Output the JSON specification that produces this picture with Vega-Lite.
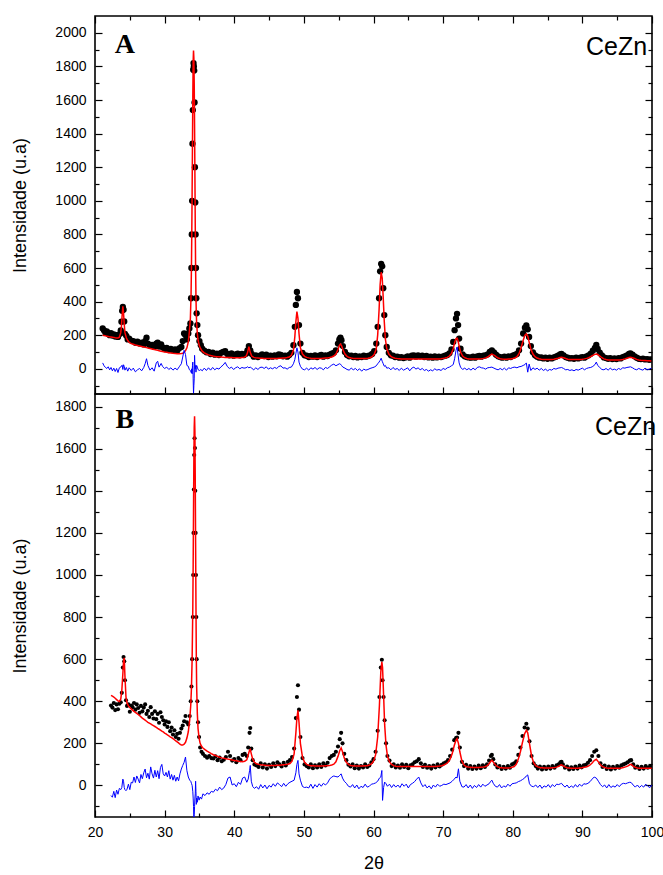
{
  "$schema": "https://vega.github.io/schema/vega-lite/v6.json",
  "background": "white",
  "padding": {"left": 10, "top": 14, "right": 0, "bottom": 5},
  "config": {
    "view": {"stroke": "black", "strokeWidth": 1.6},
    "font": "Liberation Sans",
    "axis": {"grid": false, "domain": false, "tickColor": "black", "tickWidth": 1.2, "labelFontSize": 14, "labelColor": "black", "titleColor": "black", "titleFontWeight": "normal", "titleFontSize": 18, "labelFont": "Liberation Sans", "titleFont": "Liberation Sans", "labelOverlap": false, "labelFlush": false}
  },
  "datasets": {
    "A": [
      {"x":21.1,"c":200,"o":240,"d":35},{"x":21.3,"c":198,"o":228,"d":18},{"x":21.5,"c":196,"o":215,"d":8},{"x":21.7,"c":194,"o":222,"d":2},{"x":21.9,"c":192,"o":210,"d":12},
      {"x":22.1,"c":190,"o":200,"d":-6},{"x":22.3,"c":189,"o":212,"d":8},{"x":22.5,"c":188,"o":198,"d":-12},{"x":22.7,"c":187,"o":205,"d":4},{"x":22.9,"c":185,"o":192,"d":-16},
      {"x":23.1,"c":184,"o":200,"d":2},{"x":23.3,"c":184,"o":190,"d":-22},{"x":23.5,"c":188,"o":205,"d":6},{"x":23.7,"c":215,"o":228,"d":10},{"x":23.8,"c":255,"o":280,"d":18},
      {"x":23.9,"c":320,"o":345,"d":22},{"x":24.0,"c":372,"o":368,"d":-4},{"x":24.1,"c":330,"o":352,"d":24},{"x":24.2,"c":265,"o":282,"d":14},{"x":24.3,"c":215,"o":208,"d":-8},
      {"x":24.5,"c":185,"o":196,"d":8},{"x":24.7,"c":168,"o":175,"d":-14},{"x":24.9,"c":158,"o":180,"d":6},{"x":25.2,"c":150,"o":168,"d":-10},{"x":25.5,"c":146,"o":165,"d":4},
      {"x":25.8,"c":142,"o":155,"d":-18},{"x":26.1,"c":139,"o":162,"d":-6},{"x":26.4,"c":136,"o":150,"d":2},{"x":26.7,"c":133,"o":155,"d":-12},{"x":27.0,"c":130,"o":145,"d":8},
      {"x":27.2,"c":128,"o":165,"d":30},{"x":27.4,"c":126,"o":185,"d":60},{"x":27.6,"c":124,"o":150,"d":20},{"x":27.9,"c":121,"o":138,"d":-8},{"x":28.2,"c":118,"o":142,"d":6},
      {"x":28.5,"c":115,"o":130,"d":-14},{"x":28.8,"c":112,"o":150,"d":35},{"x":29.0,"c":110,"o":155,"d":45},{"x":29.2,"c":108,"o":132,"d":10},{"x":29.5,"c":105,"o":145,"d":32},
      {"x":29.7,"c":103,"o":128,"d":14},{"x":30.0,"c":100,"o":118,"d":2},{"x":30.3,"c":98,"o":125,"d":10},{"x":30.6,"c":96,"o":112,"d":-4},{"x":30.9,"c":94,"o":118,"d":6},
      {"x":31.2,"c":92,"o":110,"d":-8},{"x":31.5,"c":91,"o":115,"d":4},{"x":31.8,"c":90,"o":108,"d":-6},{"x":32.1,"c":90,"o":122,"d":12},{"x":32.4,"c":91,"o":130,"d":30},
      {"x":32.6,"c":93,"o":165,"d":70},{"x":32.8,"c":98,"o":210,"d":110},{"x":33.0,"c":108,"o":200,"d":85},{"x":33.2,"c":125,"o":175,"d":20},{"x":33.4,"c":160,"o":210,"d":15},
      {"x":33.55,"c":220,"o":240,"d":-5},{"x":33.7,"c":300,"o":270,"d":-10},{"x":33.8,"c":450,"o":420,"d":-20},{"x":33.85,"c":600,"o":600,"d":-25},{"x":33.9,"c":800,"o":800,"d":0},
      {"x":33.95,"c":1050,"o":1000,"d":-30},{"x":34.0,"c":1340,"o":1340,"d":20},{"x":34.05,"c":1620,"o":1540,"d":40},{"x":34.1,"c":1830,"o":1780,"d":-60},{"x":34.15,"c":1895,"o":1820,"d":-150},
      {"x":34.2,"c":1850,"o":1800,"d":-100},{"x":34.25,"c":1700,"o":1775,"d":-60},{"x":34.3,"c":1450,"o":1585,"d":80},{"x":34.35,"c":1150,"o":1200,"d":30},{"x":34.4,"c":850,"o":990,"d":0},
      {"x":34.45,"c":600,"o":800,"d":20},{"x":34.5,"c":430,"o":600,"d":-20},{"x":34.55,"c":330,"o":420,"d":10},{"x":34.6,"c":270,"o":330,"d":20},{"x":34.7,"c":210,"o":260,"d":10},
      {"x":34.8,"c":170,"o":200,"d":-5},{"x":35.0,"c":135,"o":165,"d":-10},{"x":35.2,"c":118,"o":140,"d":-4},{"x":35.4,"c":105,"o":120,"d":-12},{"x":35.7,"c":95,"o":108,"d":4},
      {"x":36.0,"c":88,"o":98,"d":-10},{"x":36.3,"c":83,"o":100,"d":6},{"x":36.6,"c":79,"o":88,"d":-8},{"x":36.9,"c":76,"o":96,"d":8},{"x":37.2,"c":74,"o":84,"d":-6},
      {"x":37.5,"c":72,"o":90,"d":4},{"x":37.8,"c":71,"o":82,"d":-2},{"x":38.1,"c":70,"o":95,"d":12},{"x":38.4,"c":69,"o":100,"d":22},{"x":38.7,"c":68,"o":105,"d":38},
      {"x":39.0,"c":68,"o":88,"d":14},{"x":39.3,"c":67,"o":80,"d":2},{"x":39.6,"c":67,"o":92,"d":10},{"x":39.9,"c":66,"o":78,"d":-4},{"x":40.2,"c":66,"o":85,"d":6},
      {"x":40.5,"c":66,"o":90,"d":12},{"x":40.8,"c":66,"o":80,"d":0},{"x":41.1,"c":67,"o":88,"d":8},{"x":41.4,"c":68,"o":82,"d":4},{"x":41.7,"c":75,"o":90,"d":6},
      {"x":41.9,"c":95,"o":110,"d":12},{"x":42.1,"c":132,"o":135,"d":6},{"x":42.3,"c":98,"o":110,"d":10},{"x":42.5,"c":76,"o":88,"d":4},{"x":42.8,"c":68,"o":72,"d":-6},
      {"x":43.1,"c":65,"o":80,"d":6},{"x":43.4,"c":64,"o":70,"d":-4},{"x":43.7,"c":63,"o":78,"d":8},{"x":44.0,"c":63,"o":85,"d":10},{"x":44.3,"c":62,"o":76,"d":2},
      {"x":44.6,"c":62,"o":84,"d":12},{"x":44.9,"c":62,"o":70,"d":-2},{"x":45.2,"c":62,"o":78,"d":6},{"x":45.5,"c":62,"o":72,"d":0},{"x":45.8,"c":62,"o":80,"d":8},
      {"x":46.1,"c":62,"o":74,"d":2},{"x":46.4,"c":63,"o":86,"d":14},{"x":46.7,"c":63,"o":82,"d":18},{"x":47.0,"c":64,"o":74,"d":4},{"x":47.3,"c":65,"o":78,"d":6},
      {"x":47.6,"c":67,"o":72,"d":-2},{"x":47.9,"c":70,"o":82,"d":8},{"x":48.2,"c":80,"o":95,"d":10},{"x":48.5,"c":110,"o":140,"d":30},{"x":48.7,"c":190,"o":250,"d":55},
      {"x":48.85,"c":280,"o":380,"d":90},{"x":49.0,"c":340,"o":457,"d":125},{"x":49.15,"c":300,"o":420,"d":100},{"x":49.3,"c":210,"o":260,"d":40},{"x":49.5,"c":125,"o":150,"d":15},
      {"x":49.8,"c":88,"o":95,"d":-2},{"x":50.1,"c":74,"o":80,"d":-6},{"x":50.4,"c":68,"o":78,"d":4},{"x":50.7,"c":65,"o":70,"d":-8},{"x":51.0,"c":63,"o":76,"d":6},
      {"x":51.3,"c":62,"o":72,"d":-2},{"x":51.6,"c":62,"o":80,"d":8},{"x":51.9,"c":62,"o":70,"d":-4},{"x":52.2,"c":62,"o":78,"d":6},{"x":52.5,"c":62,"o":82,"d":4},
      {"x":52.8,"c":63,"o":72,"d":-6},{"x":53.1,"c":64,"o":80,"d":8},{"x":53.4,"c":65,"o":76,"d":2},{"x":53.7,"c":67,"o":84,"d":12},{"x":54.0,"c":70,"o":90,"d":22},
      {"x":54.3,"c":76,"o":95,"d":28},{"x":54.6,"c":88,"o":110,"d":18},{"x":54.9,"c":115,"o":150,"d":25},{"x":55.1,"c":140,"o":175,"d":30},{"x":55.25,"c":148,"o":185,"d":28},
      {"x":55.4,"c":138,"o":170,"d":20},{"x":55.6,"c":115,"o":135,"d":10},{"x":55.9,"c":88,"o":100,"d":4},{"x":56.2,"c":74,"o":82,"d":-4},{"x":56.5,"c":67,"o":74,"d":-8},
      {"x":56.8,"c":64,"o":78,"d":4},{"x":57.1,"c":62,"o":70,"d":-6},{"x":57.4,"c":61,"o":76,"d":2},{"x":57.7,"c":61,"o":68,"d":-10},{"x":58.0,"c":61,"o":74,"d":0},
      {"x":58.3,"c":61,"o":70,"d":-14},{"x":58.6,"c":61,"o":78,"d":-2},{"x":58.9,"c":62,"o":72,"d":-8},{"x":59.2,"c":63,"o":76,"d":-4},{"x":59.5,"c":66,"o":80,"d":2},
      {"x":59.8,"c":72,"o":88,"d":6},{"x":60.1,"c":85,"o":105,"d":10},{"x":60.4,"c":120,"o":150,"d":18},{"x":60.6,"c":200,"o":250,"d":30},{"x":60.8,"c":350,"o":420,"d":40},
      {"x":60.95,"c":500,"o":580,"d":50},{"x":61.1,"c":575,"o":625,"d":63},{"x":61.25,"c":540,"o":610,"d":45},{"x":61.4,"c":420,"o":480,"d":30},{"x":61.55,"c":280,"o":320,"d":15},
      {"x":61.7,"c":180,"o":200,"d":20},{"x":61.9,"c":120,"o":130,"d":4},{"x":62.2,"c":88,"o":95,"d":6},{"x":62.5,"c":74,"o":80,"d":-6},{"x":62.8,"c":67,"o":78,"d":8},
      {"x":63.1,"c":63,"o":70,"d":-4},{"x":63.4,"c":61,"o":72,"d":2},{"x":63.7,"c":60,"o":66,"d":-10},{"x":64.0,"c":59,"o":70,"d":4},{"x":64.3,"c":59,"o":64,"d":-8},
      {"x":64.6,"c":58,"o":68,"d":-2},{"x":64.9,"c":58,"o":74,"d":6},{"x":65.2,"c":58,"o":66,"d":-12},{"x":65.5,"c":58,"o":78,"d":4},{"x":65.8,"c":58,"o":80,"d":10},
      {"x":66.1,"c":58,"o":72,"d":-2},{"x":66.4,"c":58,"o":80,"d":6},{"x":66.7,"c":58,"o":74,"d":-6},{"x":67.0,"c":58,"o":78,"d":2},{"x":67.3,"c":58,"o":70,"d":-10},
      {"x":67.6,"c":58,"o":76,"d":-4},{"x":67.9,"c":58,"o":68,"d":-14},{"x":68.2,"c":58,"o":72,"d":-6},{"x":68.5,"c":58,"o":66,"d":-12},{"x":68.8,"c":58,"o":74,"d":0},
      {"x":69.1,"c":59,"o":68,"d":-8},{"x":69.4,"c":59,"o":72,"d":-4},{"x":69.7,"c":60,"o":70,"d":-10},{"x":70.0,"c":62,"o":74,"d":2},{"x":70.3,"c":64,"o":78,"d":-4},
      {"x":70.6,"c":68,"o":82,"d":6},{"x":70.9,"c":76,"o":92,"d":10},{"x":71.2,"c":92,"o":115,"d":18},{"x":71.45,"c":120,"o":160,"d":25},{"x":71.65,"c":155,"o":230,"d":60},
      {"x":71.85,"c":180,"o":300,"d":110},{"x":72.0,"c":182,"o":327,"d":130},{"x":72.15,"c":165,"o":260,"d":80},{"x":72.3,"c":135,"o":180,"d":35},{"x":72.5,"c":100,"o":120,"d":10},
      {"x":72.8,"c":76,"o":85,"d":-4},{"x":73.1,"c":66,"o":74,"d":4},{"x":73.4,"c":61,"o":70,"d":-6},{"x":73.7,"c":59,"o":68,"d":2},{"x":74.0,"c":58,"o":66,"d":-8},
      {"x":74.3,"c":58,"o":72,"d":4},{"x":74.6,"c":58,"o":66,"d":-6},{"x":74.9,"c":59,"o":74,"d":8},{"x":75.2,"c":59,"o":76,"d":12},{"x":75.5,"c":60,"o":72,"d":6},
      {"x":75.8,"c":62,"o":78,"d":4},{"x":76.1,"c":65,"o":80,"d":-2},{"x":76.4,"c":70,"o":86,"d":6},{"x":76.7,"c":80,"o":100,"d":8},{"x":77.0,"c":88,"o":110,"d":10},
      {"x":77.3,"c":82,"o":98,"d":4},{"x":77.6,"c":72,"o":84,"d":-2},{"x":77.9,"c":64,"o":74,"d":-6},{"x":78.2,"c":60,"o":70,"d":2},{"x":78.5,"c":58,"o":66,"d":-6},
      {"x":78.8,"c":57,"o":72,"d":4},{"x":79.1,"c":57,"o":66,"d":-8},{"x":79.4,"c":58,"o":74,"d":6},{"x":79.7,"c":59,"o":70,"d":2},{"x":80.0,"c":61,"o":78,"d":8},
      {"x":80.3,"c":64,"o":82,"d":10},{"x":80.6,"c":72,"o":88,"d":6},{"x":80.9,"c":90,"o":110,"d":12},{"x":81.2,"c":125,"o":150,"d":14},{"x":81.5,"c":170,"o":210,"d":20},
      {"x":81.75,"c":200,"o":245,"d":25},{"x":81.95,"c":208,"o":258,"d":35},{"x":82.15,"c":195,"o":235,"d":-20},{"x":82.35,"c":160,"o":190,"d":28},{"x":82.6,"c":118,"o":135,"d":-10},
      {"x":82.9,"c":88,"o":98,"d":6},{"x":83.2,"c":72,"o":80,"d":-4},{"x":83.5,"c":64,"o":72,"d":4},{"x":83.8,"c":60,"o":66,"d":-8},{"x":84.1,"c":57,"o":68,"d":2},
      {"x":84.4,"c":56,"o":62,"d":-10},{"x":84.7,"c":55,"o":66,"d":-2},{"x":85.0,"c":55,"o":60,"d":-12},{"x":85.3,"c":55,"o":66,"d":-4},{"x":85.6,"c":56,"o":62,"d":-8},
      {"x":85.9,"c":57,"o":68,"d":2},{"x":86.2,"c":60,"o":72,"d":-2},{"x":86.5,"c":63,"o":78,"d":4},{"x":86.8,"c":67,"o":85,"d":6},{"x":87.0,"c":69,"o":88,"d":8},
      {"x":87.3,"c":66,"o":80,"d":2},{"x":87.6,"c":61,"o":70,"d":-6},{"x":87.9,"c":57,"o":66,"d":-4},{"x":88.2,"c":56,"o":62,"d":-10},{"x":88.5,"c":55,"o":64,"d":-6},
      {"x":88.8,"c":55,"o":60,"d":-12},{"x":89.1,"c":55,"o":66,"d":-4},{"x":89.4,"c":55,"o":62,"d":-8},{"x":89.7,"c":56,"o":66,"d":-2},{"x":90.0,"c":57,"o":70,"d":4},
      {"x":90.3,"c":59,"o":66,"d":-6},{"x":90.6,"c":62,"o":74,"d":2},{"x":90.9,"c":66,"o":80,"d":6},{"x":91.2,"c":72,"o":90,"d":8},{"x":91.5,"c":80,"o":108,"d":14},
      {"x":91.8,"c":86,"o":125,"d":25},{"x":92.0,"c":88,"o":142,"d":40},{"x":92.2,"c":85,"o":118,"d":20},{"x":92.5,"c":76,"o":96,"d":8},{"x":92.8,"c":66,"o":80,"d":-4},
      {"x":93.1,"c":59,"o":68,"d":-6},{"x":93.4,"c":55,"o":64,"d":2},{"x":93.7,"c":53,"o":60,"d":-8},{"x":94.0,"c":52,"o":64,"d":4},{"x":94.3,"c":52,"o":58,"d":-6},
      {"x":94.6,"c":52,"o":62,"d":-2},{"x":94.9,"c":52,"o":58,"d":-8},{"x":95.2,"c":53,"o":64,"d":2},{"x":95.5,"c":54,"o":62,"d":-4},{"x":95.8,"c":56,"o":70,"d":6},
      {"x":96.1,"c":59,"o":74,"d":4},{"x":96.4,"c":63,"o":80,"d":8},{"x":96.7,"c":67,"o":88,"d":10},{"x":96.9,"c":69,"o":92,"d":12},{"x":97.2,"c":66,"o":84,"d":6},
      {"x":97.5,"c":61,"o":74,"d":-2},{"x":97.8,"c":56,"o":66,"d":-6},{"x":98.1,"c":53,"o":60,"d":2},{"x":98.4,"c":51,"o":58,"d":-4},{"x":98.7,"c":50,"o":60,"d":-8},
      {"x":99.0,"c":49,"o":56,"d":4},{"x":99.3,"c":48,"o":58,"d":-6},{"x":99.6,"c":48,"o":54,"d":-2},{"x":99.9,"c":47,"o":56,"d":4}
    ],
    "B": [
      {"x":22.3,"c":428,"o":380,"d":-48},{"x":22.5,"c":424,"o":370,"d":-56},{"x":22.7,"c":420,"o":392,"d":-28},{"x":22.9,"c":414,"o":358,"d":-58},{"x":23.1,"c":408,"o":385,"d":-22},
      {"x":23.3,"c":402,"o":362,"d":-42},{"x":23.5,"c":399,"o":388,"d":-14},{"x":23.7,"c":410,"o":395,"d":-20},{"x":23.85,"c":450,"o":440,"d":-10},{"x":24.0,"c":530,"o":560,"d":30},
      {"x":24.1,"c":590,"o":610,"d":20},{"x":24.2,"c":606,"o":590,"d":-10},{"x":24.3,"c":520,"o":500,"d":-20},{"x":24.45,"c":420,"o":405,"d":-25},{"x":24.6,"c":392,"o":378,"d":-18},
      {"x":24.8,"c":378,"o":385,"d":6},{"x":25.0,"c":370,"o":350,"d":-20},{"x":25.2,"c":364,"o":380,"d":15},{"x":25.4,"c":358,"o":372,"d":12},{"x":25.6,"c":352,"o":392,"d":40},
      {"x":25.8,"c":347,"o":360,"d":14},{"x":26.0,"c":342,"o":385,"d":45},{"x":26.2,"c":337,"o":368,"d":30},{"x":26.4,"c":332,"o":345,"d":12},{"x":26.6,"c":326,"o":378,"d":52},
      {"x":26.8,"c":320,"o":352,"d":32},{"x":27.0,"c":315,"o":370,"d":60},{"x":27.2,"c":310,"o":385,"d":78},{"x":27.4,"c":305,"o":340,"d":36},{"x":27.6,"c":300,"o":355,"d":58},
      {"x":27.8,"c":296,"o":325,"d":30},{"x":28.0,"c":292,"o":372,"d":88},{"x":28.2,"c":288,"o":340,"d":55},{"x":28.4,"c":284,"o":318,"d":35},{"x":28.6,"c":280,"o":352,"d":72},
      {"x":28.8,"c":276,"o":315,"d":40},{"x":29.0,"c":271,"o":340,"d":70},{"x":29.2,"c":267,"o":298,"d":32},{"x":29.4,"c":263,"o":348,"d":85},{"x":29.6,"c":258,"o":325,"d":100},
      {"x":29.8,"c":254,"o":310,"d":55},{"x":30.0,"c":249,"o":290,"d":45},{"x":30.2,"c":245,"o":305,"d":62},{"x":30.4,"c":240,"o":278,"d":40},{"x":30.6,"c":236,"o":300,"d":70},
      {"x":30.8,"c":231,"o":258,"d":30},{"x":31.0,"c":227,"o":275,"d":52},{"x":31.2,"c":222,"o":242,"d":25},{"x":31.4,"c":217,"o":262,"d":48},{"x":31.6,"c":212,"o":230,"d":20},
      {"x":31.8,"c":207,"o":245,"d":40},{"x":32.0,"c":202,"o":222,"d":22},{"x":32.2,"c":196,"o":250,"d":55},{"x":32.4,"c":192,"o":270,"d":78},{"x":32.6,"c":192,"o":285,"d":95},
      {"x":32.8,"c":196,"o":305,"d":110},{"x":33.0,"c":205,"o":330,"d":135},{"x":33.2,"c":225,"o":300,"d":70},{"x":33.4,"c":255,"o":290,"d":40},{"x":33.6,"c":310,"o":330,"d":25},
      {"x":33.75,"c":380,"o":400,"d":20},{"x":33.85,"c":460,"o":470,"d":10},{"x":33.95,"c":600,"o":600,"d":0},{"x":34.05,"c":850,"o":800,"d":-30},{"x":34.1,"c":1050,"o":1000,"d":-60},
      {"x":34.15,"c":1300,"o":1200,"d":-100},{"x":34.2,"c":1550,"o":1406,"d":-160},{"x":34.25,"c":1700,"o":1570,"d":-140},{"x":34.3,"c":1754,"o":1650,"d":-100},{"x":34.35,"c":1680,"o":1603,"d":-60},
      {"x":34.4,"c":1450,"o":1400,"d":-40},{"x":34.45,"c":1150,"o":1200,"d":20},{"x":34.5,"c":860,"o":1000,"d":-30},{"x":34.55,"c":620,"o":800,"d":-90},{"x":34.6,"c":470,"o":600,"d":-60},
      {"x":34.7,"c":340,"o":400,"d":-80},{"x":34.8,"c":270,"o":300,"d":-50},{"x":34.95,"c":225,"o":230,"d":-70},{"x":35.1,"c":200,"o":180,"d":-55},{"x":35.3,"c":186,"o":160,"d":-65},
      {"x":35.5,"c":178,"o":150,"d":-40},{"x":35.8,"c":170,"o":140,"d":-48},{"x":36.1,"c":163,"o":132,"d":-35},{"x":36.4,"c":157,"o":140,"d":-42},{"x":36.7,"c":151,"o":130,"d":-28},
      {"x":37.0,"c":146,"o":128,"d":-32},{"x":37.3,"c":142,"o":138,"d":-18},{"x":37.6,"c":138,"o":120,"d":-25},{"x":37.9,"c":134,"o":132,"d":-8},{"x":38.2,"c":131,"o":115,"d":-20},
      {"x":38.5,"c":129,"o":122,"d":-12},{"x":38.8,"c":127,"o":135,"d":5},{"x":39.1,"c":125,"o":160,"d":35},{"x":39.4,"c":123,"o":140,"d":40},{"x":39.7,"c":121,"o":118,"d":2},
      {"x":40.0,"c":119,"o":125,"d":8},{"x":40.3,"c":117,"o":110,"d":-6},{"x":40.6,"c":115,"o":130,"d":15},{"x":40.9,"c":114,"o":120,"d":5},{"x":41.2,"c":113,"o":145,"d":35},
      {"x":41.5,"c":115,"o":150,"d":40},{"x":41.8,"c":122,"o":140,"d":15},{"x":42.0,"c":145,"o":180,"d":30},{"x":42.2,"c":168,"o":250,"d":70},{"x":42.3,"c":171,"o":273,"d":95},
      {"x":42.45,"c":150,"o":175,"d":20},{"x":42.65,"c":125,"o":120,"d":-5},{"x":42.9,"c":110,"o":100,"d":-14},{"x":43.2,"c":103,"o":95,"d":-6},{"x":43.5,"c":100,"o":88,"d":-18},
      {"x":43.8,"c":98,"o":105,"d":4},{"x":44.1,"c":97,"o":85,"d":-12},{"x":44.4,"c":96,"o":100,"d":2},{"x":44.7,"c":95,"o":80,"d":-16},{"x":45.0,"c":95,"o":98,"d":0},
      {"x":45.3,"c":95,"o":88,"d":-8},{"x":45.6,"c":95,"o":105,"d":8},{"x":45.9,"c":95,"o":92,"d":-4},{"x":46.2,"c":96,"o":110,"d":12},{"x":46.5,"c":96,"o":100,"d":4},
      {"x":46.8,"c":97,"o":90,"d":-6},{"x":47.1,"c":98,"o":108,"d":10},{"x":47.4,"c":99,"o":95,"d":-4},{"x":47.7,"c":101,"o":112,"d":8},{"x":48.0,"c":104,"o":120,"d":15},
      {"x":48.3,"c":115,"o":135,"d":20},{"x":48.6,"c":150,"o":175,"d":25},{"x":48.85,"c":250,"o":320,"d":60},{"x":49.0,"c":320,"o":420,"d":100},{"x":49.15,"c":357,"o":476,"d":119},
      {"x":49.3,"c":300,"o":360,"d":55},{"x":49.5,"c":200,"o":230,"d":25},{"x":49.8,"c":135,"o":130,"d":-5},{"x":50.1,"c":110,"o":100,"d":-10},{"x":50.4,"c":100,"o":92,"d":-8},
      {"x":50.7,"c":96,"o":85,"d":-12},{"x":51.0,"c":94,"o":100,"d":6},{"x":51.3,"c":93,"o":82,"d":-14},{"x":51.6,"c":92,"o":96,"d":4},{"x":51.9,"c":92,"o":85,"d":-8},
      {"x":52.2,"c":92,"o":100,"d":8},{"x":52.5,"c":92,"o":88,"d":-4},{"x":52.8,"c":92,"o":105,"d":10},{"x":53.1,"c":93,"o":95,"d":2},{"x":53.4,"c":94,"o":108,"d":12},
      {"x":53.7,"c":95,"o":130,"d":30},{"x":54.0,"c":97,"o":140,"d":40},{"x":54.3,"c":101,"o":145,"d":45},{"x":54.6,"c":112,"o":160,"d":42},{"x":54.9,"c":138,"o":185,"d":40},
      {"x":55.15,"c":165,"o":220,"d":48},{"x":55.35,"c":178,"o":250,"d":55},{"x":55.55,"c":160,"o":200,"d":35},{"x":55.8,"c":130,"o":150,"d":20},{"x":56.1,"c":110,"o":120,"d":10},
      {"x":56.4,"c":100,"o":98,"d":-4},{"x":56.7,"c":95,"o":90,"d":-8},{"x":57.0,"c":93,"o":100,"d":4},{"x":57.3,"c":92,"o":82,"d":-12},{"x":57.6,"c":92,"o":95,"d":2},
      {"x":57.9,"c":92,"o":80,"d":-16},{"x":58.2,"c":92,"o":92,"d":-4},{"x":58.5,"c":92,"o":85,"d":-10},{"x":58.8,"c":93,"o":100,"d":6},{"x":59.1,"c":94,"o":88,"d":-8},
      {"x":59.4,"c":97,"o":95,"d":-4},{"x":59.7,"c":102,"o":110,"d":6},{"x":60.0,"c":115,"o":125,"d":8},{"x":60.3,"c":145,"o":160,"d":12},{"x":60.6,"c":230,"o":260,"d":20},
      {"x":60.85,"c":380,"o":420,"d":35},{"x":61.05,"c":540,"o":560,"d":40},{"x":61.2,"c":587,"o":597,"d":71},{"x":61.3,"c":560,"o":500,"d":-71},{"x":61.45,"c":430,"o":420,"d":-10},
      {"x":61.6,"c":290,"o":310,"d":16},{"x":61.8,"c":190,"o":200,"d":8},{"x":62.0,"c":140,"o":140,"d":-4},{"x":62.3,"c":112,"o":118,"d":6},{"x":62.6,"c":100,"o":92,"d":-10},
      {"x":62.9,"c":94,"o":100,"d":4},{"x":63.2,"c":91,"o":85,"d":-8},{"x":63.5,"c":90,"o":95,"d":2},{"x":63.8,"c":90,"o":84,"d":-10},{"x":64.1,"c":90,"o":100,"d":8},
      {"x":64.4,"c":90,"o":88,"d":-4},{"x":64.7,"c":90,"o":98,"d":6},{"x":65.0,"c":90,"o":82,"d":-12},{"x":65.3,"c":90,"o":96,"d":4},{"x":65.6,"c":90,"o":100,"d":10},
      {"x":65.9,"c":90,"o":110,"d":18},{"x":66.2,"c":90,"o":115,"d":30},{"x":66.5,"c":90,"o":125,"d":40},{"x":66.8,"c":90,"o":105,"d":12},{"x":67.1,"c":90,"o":88,"d":-6},
      {"x":67.4,"c":90,"o":98,"d":4},{"x":67.7,"c":90,"o":84,"d":-12},{"x":68.0,"c":90,"o":92,"d":-2},{"x":68.3,"c":90,"o":80,"d":-16},{"x":68.6,"c":90,"o":95,"d":2},
      {"x":68.9,"c":90,"o":86,"d":-8},{"x":69.2,"c":91,"o":100,"d":6},{"x":69.5,"c":92,"o":90,"d":-4},{"x":69.8,"c":94,"o":98,"d":0},{"x":70.1,"c":97,"o":105,"d":6},
      {"x":70.4,"c":102,"o":110,"d":4},{"x":70.7,"c":110,"o":120,"d":8},{"x":71.0,"c":125,"o":140,"d":12},{"x":71.3,"c":150,"o":170,"d":20},{"x":71.6,"c":190,"o":215,"d":30},
      {"x":71.85,"c":215,"o":225,"d":40},{"x":72.0,"c":222,"o":228,"d":35},{"x":72.2,"c":200,"o":250,"d":79},{"x":72.4,"c":160,"o":180,"d":20},{"x":72.7,"c":115,"o":112,"d":-6},
      {"x":73.0,"c":97,"o":92,"d":-8},{"x":73.3,"c":90,"o":98,"d":4},{"x":73.6,"c":87,"o":80,"d":-12},{"x":73.9,"c":86,"o":92,"d":2},{"x":74.2,"c":85,"o":78,"d":-14},
      {"x":74.5,"c":85,"o":90,"d":0},{"x":74.8,"c":85,"o":80,"d":-10},{"x":75.1,"c":85,"o":94,"d":4},{"x":75.4,"c":86,"o":82,"d":-8},{"x":75.7,"c":87,"o":96,"d":6},
      {"x":76.0,"c":89,"o":88,"d":-4},{"x":76.3,"c":93,"o":100,"d":2},{"x":76.6,"c":103,"o":118,"d":8},{"x":76.85,"c":115,"o":140,"d":20},{"x":77.0,"c":119,"o":145,"d":25},
      {"x":77.2,"c":112,"o":125,"d":10},{"x":77.5,"c":98,"o":100,"d":-4},{"x":77.8,"c":89,"o":85,"d":-8},{"x":78.1,"c":85,"o":92,"d":4},{"x":78.4,"c":84,"o":78,"d":-12},
      {"x":78.7,"c":83,"o":88,"d":-2},{"x":79.0,"c":83,"o":80,"d":-8},{"x":79.3,"c":83,"o":92,"d":6},{"x":79.6,"c":84,"o":84,"d":-4},{"x":79.9,"c":86,"o":100,"d":8},
      {"x":80.2,"c":90,"o":105,"d":10},{"x":80.5,"c":100,"o":115,"d":12},{"x":80.8,"c":125,"o":145,"d":18},{"x":81.1,"c":160,"o":180,"d":22},{"x":81.4,"c":205,"o":235,"d":28},
      {"x":81.7,"c":245,"o":275,"d":35},{"x":81.95,"c":262,"o":293,"d":45},{"x":82.15,"c":250,"o":270,"d":50},{"x":82.4,"c":200,"o":210,"d":8},{"x":82.7,"c":140,"o":140,"d":-4},
      {"x":83.0,"c":108,"o":105,"d":-6},{"x":83.3,"c":94,"o":92,"d":2},{"x":83.6,"c":88,"o":80,"d":-10},{"x":83.9,"c":85,"o":90,"d":2},{"x":84.2,"c":84,"o":76,"d":-14},
      {"x":84.5,"c":83,"o":88,"d":-2},{"x":84.8,"c":83,"o":78,"d":-8},{"x":85.1,"c":83,"o":90,"d":4},{"x":85.4,"c":83,"o":80,"d":-10},{"x":85.7,"c":84,"o":92,"d":4},
      {"x":86.0,"c":85,"o":84,"d":-6},{"x":86.3,"c":87,"o":96,"d":6},{"x":86.6,"c":91,"o":100,"d":4},{"x":86.85,"c":96,"o":110,"d":8},{"x":87.0,"c":98,"o":112,"d":10},
      {"x":87.2,"c":94,"o":100,"d":2},{"x":87.5,"c":88,"o":84,"d":-8},{"x":87.8,"c":84,"o":90,"d":2},{"x":88.1,"c":83,"o":76,"d":-12},{"x":88.4,"c":82,"o":86,"d":-2},
      {"x":88.7,"c":82,"o":78,"d":-10},{"x":89.0,"c":82,"o":90,"d":4},{"x":89.3,"c":82,"o":80,"d":-8},{"x":89.6,"c":83,"o":94,"d":6},{"x":89.9,"c":84,"o":86,"d":-4},
      {"x":90.2,"c":86,"o":96,"d":8},{"x":90.5,"c":88,"o":98,"d":6},{"x":90.8,"c":91,"o":108,"d":10},{"x":91.1,"c":97,"o":120,"d":18},{"x":91.4,"c":107,"o":140,"d":30},
      {"x":91.7,"c":118,"o":160,"d":40},{"x":92.0,"c":124,"o":167,"d":35},{"x":92.3,"c":112,"o":140,"d":20},{"x":92.6,"c":98,"o":105,"d":4},{"x":92.9,"c":89,"o":88,"d":-6},
      {"x":93.2,"c":85,"o":94,"d":2},{"x":93.5,"c":83,"o":78,"d":-12},{"x":93.8,"c":82,"o":90,"d":4},{"x":94.1,"c":82,"o":76,"d":-10},{"x":94.4,"c":82,"o":88,"d":-2},
      {"x":94.7,"c":82,"o":80,"d":-8},{"x":95.0,"c":82,"o":92,"d":4},{"x":95.3,"c":82,"o":84,"d":-6},{"x":95.6,"c":83,"o":96,"d":6},{"x":95.9,"c":85,"o":100,"d":10},
      {"x":96.2,"c":88,"o":104,"d":8},{"x":96.5,"c":92,"o":110,"d":12},{"x":96.8,"c":98,"o":118,"d":15},{"x":97.0,"c":100,"o":120,"d":14},{"x":97.3,"c":92,"o":100,"d":2},
      {"x":97.6,"c":86,"o":84,"d":-8},{"x":97.9,"c":83,"o":90,"d":2},{"x":98.2,"c":82,"o":78,"d":-10},{"x":98.5,"c":82,"o":88,"d":0},{"x":98.8,"c":82,"o":80,"d":-8},
      {"x":99.1,"c":82,"o":92,"d":6},{"x":99.4,"c":82,"o":84,"d":-4},{"x":99.7,"c":82,"o":90,"d":-10},{"x":99.95,"c":82,"o":86,"d":2}
    ]
  },
  "vconcat": [
    {
      "width": 557,
      "height": 378,
      "resolve": {"axis": {"x": "independent", "y": "independent"}},
      "layer": [
        {
          "data": {"name": "A"},
          "mark": {"type": "circle", "color": "black", "size": 40, "opacity": 1, "clip": true},
          "encoding": {
            "x": {"field": "x", "type": "quantitative", "scale": {"domain": [20, 100], "nice": false, "zero": false},
              "axis": {"orient": "bottom", "values": [20,25,30,35,40,45,50,55,60,65,70,75,80,85,90,95,100], "labels": false, "title": null,
                "tickSize": {"condition": {"test": "datum.value % 10 === 0", "value": -7}, "value": -4}}},
            "y": {"field": "o", "type": "quantitative", "scale": {"domain": [-150, 2100], "nice": false, "zero": false},
              "axis": {"orient": "left", "values": [-100,0,100,200,300,400,500,600,700,800,900,1000,1100,1200,1300,1400,1500,1600,1700,1800,1900,2000],
                "format": "d", "labelExpr": "datum.value % 200 === 0 ? datum.label : ''", "labelPadding": 16,
                "tickSize": {"condition": {"test": "datum.value % 200 === 0", "value": -7}, "value": -4},
                "title": "Intensidade (u.a)", "titleX": -75, "titleBaseline": "middle", "titleAlign": "center", "titleAngle": -90}}
          }
        },
        {
          "data": {"name": "A"},
          "mark": {"type": "line", "color": "#ff0000", "strokeWidth": 1.5, "clip": true},
          "encoding": {
            "x": {"field": "x", "type": "quantitative",
              "axis": {"orient": "top", "values": [20,25,30,35,40,45,50,55,60,65,70,75,80,85,90,95,100], "labels": false, "title": null,
                "tickSize": {"condition": {"test": "datum.value % 10 === 0", "value": -7}, "value": -4}}},
            "y": {"field": "c", "type": "quantitative",
              "axis": {"orient": "right", "values": [-100,0,100,200,300,400,500,600,700,800,900,1000,1100,1200,1300,1400,1500,1600,1700,1800,1900,2000], "labels": false, "title": null,
                "tickSize": {"condition": {"test": "datum.value % 200 === 0", "value": -7}, "value": -4}}}
          }
        },
        {
          "data": {"name": "A"},
          "mark": {"type": "line", "color": "#0000ff", "strokeWidth": 1, "clip": true},
          "encoding": {
            "x": {"field": "x", "type": "quantitative", "axis": null},
            "y": {"field": "d", "type": "quantitative", "axis": null}
          }
        },
        {
          "data": {"values": [{"t": "A"}]},
          "mark": {"type": "text", "font": "Liberation Serif", "fontWeight": "bold", "fontSize": 28, "align": "center", "baseline": "middle", "color": "black"},
          "encoding": {
            "x": {"datum": 24.3, "type": "quantitative", "axis": null},
            "y": {"datum": 1925, "type": "quantitative", "axis": null},
            "text": {"field": "t"}
          }
        },
        {
          "data": {"values": [{"t": "CeZn"}]},
          "mark": {"type": "text", "font": "Liberation Sans", "fontSize": 25, "align": "right", "baseline": "middle", "color": "black"},
          "encoding": {
            "x": {"datum": 99.3, "type": "quantitative", "axis": null},
            "y": {"datum": 1915, "type": "quantitative", "axis": null},
            "text": {"field": "t"}
          }
        }
      ]
    },
    {
      "width": 557,
      "height": 423,
      "resolve": {"axis": {"x": "independent", "y": "independent"}},
      "layer": [
        {
          "data": {"name": "B"},
          "mark": {"type": "circle", "color": "black", "size": 17, "opacity": 1, "clip": true},
          "encoding": {
            "x": {"field": "x", "type": "quantitative", "scale": {"domain": [20, 100], "nice": false, "zero": false},
              "axis": {"orient": "bottom", "values": [20,25,30,35,40,45,50,55,60,65,70,75,80,85,90,95,100], "format": "d",
                "labelExpr": "datum.value % 10 === 0 ? datum.label : ''", "labelPadding": 15,
                "tickSize": {"condition": {"test": "datum.value % 10 === 0", "value": -7}, "value": -4},
                "title": "2θ", "titlePadding": 12}},
            "y": {"field": "o", "type": "quantitative", "scale": {"domain": [-150, 1860], "nice": false, "zero": false},
              "axis": {"orient": "left", "values": [-100,0,100,200,300,400,500,600,700,800,900,1000,1100,1200,1300,1400,1500,1600,1700,1800],
                "format": "d", "labelExpr": "datum.value % 200 === 0 ? datum.label : ''", "labelPadding": 16,
                "tickSize": {"condition": {"test": "datum.value % 200 === 0", "value": -7}, "value": -4},
                "title": "Intensidade (u.a)", "titleX": -75, "titleBaseline": "middle", "titleAlign": "center", "titleAngle": -90}}
          }
        },
        {
          "data": {"name": "B"},
          "mark": {"type": "line", "color": "#ff0000", "strokeWidth": 1.5, "clip": true},
          "encoding": {
            "x": {"field": "x", "type": "quantitative", "axis": null},
            "y": {"field": "c", "type": "quantitative",
              "axis": {"orient": "right", "values": [-100,0,100,200,300,400,500,600,700,800,900,1000,1100,1200,1300,1400,1500,1600,1700,1800], "labels": false, "title": null,
                "tickSize": {"condition": {"test": "datum.value % 200 === 0", "value": -7}, "value": -4}}}
          }
        },
        {
          "data": {"name": "B"},
          "mark": {"type": "line", "color": "#0000ff", "strokeWidth": 1, "clip": true},
          "encoding": {
            "x": {"field": "x", "type": "quantitative", "axis": null},
            "y": {"field": "d", "type": "quantitative", "axis": null}
          }
        },
        {
          "data": {"values": [{"t": "B"}]},
          "mark": {"type": "text", "font": "Liberation Serif", "fontWeight": "bold", "fontSize": 28, "align": "center", "baseline": "middle", "color": "black"},
          "encoding": {
            "x": {"datum": 24.3, "type": "quantitative", "axis": null},
            "y": {"datum": 1735, "type": "quantitative", "axis": null},
            "text": {"field": "t"}
          }
        },
        {
          "data": {"values": [{"t": "CeZn"}]},
          "mark": {"type": "text", "font": "Liberation Sans", "fontSize": 25, "align": "right", "baseline": "middle", "color": "black"},
          "encoding": {
            "x": {"datum": 100.6, "type": "quantitative", "axis": null},
            "y": {"datum": 1702, "type": "quantitative", "axis": null},
            "text": {"field": "t"}
          }
        }
      ]
    }
  ],
  "spacing": 0,
  "bounds": "flush"
}
